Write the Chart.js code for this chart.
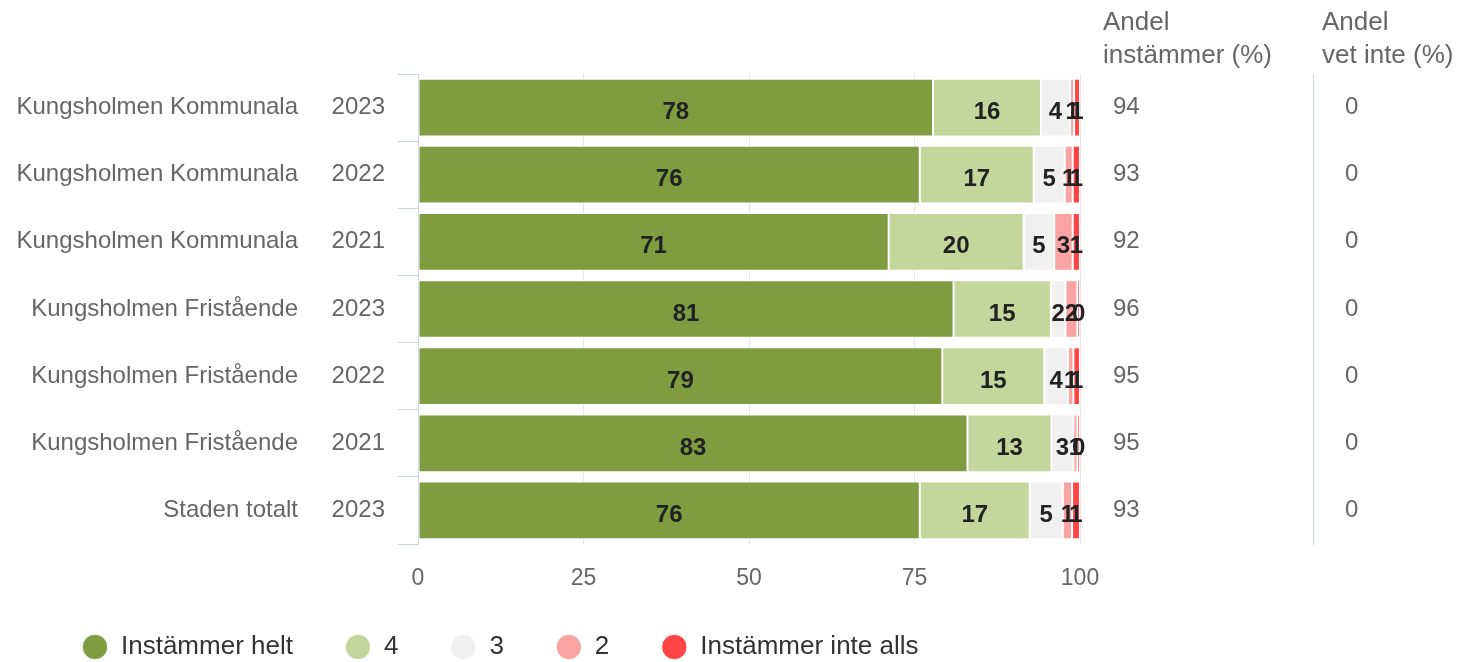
<!DOCTYPE html>
<html>
<head>
<meta charset="utf-8">
<script src="https://cdn.jsdelivr.net/npm/chart.js@4/dist/chart.umd.min.js"></script>
<style>
  html, body { margin: 0; padding: 0; background: #fff; }
  #wrap { width: 1477px; height: 662px; }
</style>
</head>
<body>
<div id="wrap"><canvas id="grafik" width="1477" height="662"></canvas></div>
<script>
// etiketter
const grupper = ['Kungsholmen Kommunala', 'Kungsholmen Kommunala', 'Kungsholmen Kommunala',
  'Kungsholmen Fristående', 'Kungsholmen Fristående', 'Kungsholmen Fristående', 'Staden totalt'];
const ar = ['2023', '2022', '2021', '2023', '2022', '2021', '2023'];

// serier (andel %)
const helt = [77.8, 75.8, 71.1, 80.9, 79.2, 83.0, 75.8];
const fyra = [16.3, 17.2, 20.4, 14.7, 15.4, 12.7, 16.6];
const tre = [4.4, 4.7, 4.6, 2.2, 3.6, 3.3, 5.0];
const tva = [0.6, 1.2, 2.8, 1.8, 0.8, 0.6, 1.4];
const inteAlls = [0.9, 1.1, 1.1, 0.4, 1.0, 0.4, 1.2];

const andelInstammer = [94, 93, 92, 96, 95, 95, 93];
const andelVetInte = [0, 0, 0, 0, 0, 0, 0];
const xTicks = [0, 25, 50, 75, 100];

const gra = '#666666';
const linje = '#ccd6eb';
const typsnitt = '"Liberation Sans", Arial, sans-serif';

// siffror mitt i staplarna
const stapelEtiketter = {
  id: 'stapelEtiketter',
  afterDatasetsDraw(chart) {
    const ctx = chart.ctx;
    ctx.save();
    ctx.font = 'bold 24px ' + typsnitt;
    ctx.fillStyle = '#222';
    ctx.textAlign = 'center';
    ctx.textBaseline = 'middle';
    chart.data.datasets.forEach((ds, i) => {
      chart.getDatasetMeta(i).data.forEach((bar, j) => {
        const x = (bar.x + bar.base) / 2;
        ctx.fillText(String(Math.round(ds.data[j])), x, bar.y + 5);
      });
    });
    ctx.restore();
  }
};

// rubriker över högerkolumnerna
const kolumnRubriker = {
  id: 'kolumnRubriker',
  afterDraw(chart) {
    const ctx = chart.ctx;
    ctx.save();
    ctx.font = '26px ' + typsnitt;
    ctx.fillStyle = gra;
    ctx.textAlign = 'left';
    ctx.textBaseline = 'middle';
    const a = chart.scales.yAndel.left + 23;
    const b = chart.scales.yVet.left + 9;
    ctx.fillText('Andel', a, 23);
    ctx.fillText('instämmer (%)', a, 56);
    ctx.fillText('Andel', b, 23);
    ctx.fillText('vet inte (%)', b, 56);
    ctx.restore();
  }
};

// flytta legenden lite (in från vänsterkanten, upp mot axeln)
const legendFlytt = {
  id: 'legendFlytt',
  afterLayout(chart) {
    const l = chart.legend;
    l.left += 30; l.right += 30;
    l.top -= 12;
  }
};

function serie(namn, data, farg) {
  return {
    label: namn,
    data: data,
    backgroundColor: farg,
    borderColor: '#ffffff',
    borderWidth: 1,
    borderSkipped: false,
    barPercentage: 0.86,
    categoryPercentage: 1
  };
}

new Chart(document.getElementById('grafik'), {
  type: 'bar',
  data: {
    labels: ar,
    datasets: [
      serie('Instämmer helt', helt, '#7f9c41'),
      serie('4', fyra, '#c4d69b'),
      serie('3', tre, '#f0f0f0'),
      serie('2', tva, '#faa3a3'),
      serie('Instämmer inte alls', inteAlls, '#ff4545')
    ]
  },
  options: {
    indexAxis: 'y',
    responsive: false,
    animation: false,
    layout: { padding: { top: 74, left: 0, right: 0, bottom: 0 } },
    scales: {
      x: {
        stacked: true,
        min: 0,
        max: 100,
        afterBuildTicks: s => { s.ticks = xTicks.map(v => ({ value: v })); },
        afterFit: s => { s.height = 50; },
        grid: { color: '#e6e6e6', drawTicks: false },
        border: { display: false },
        ticks: { color: gra, padding: 21, font: { size: 23, family: typsnitt } }
      },
      y: {
        stacked: true,
        weight: 0,
        afterFit: s => { s.width = 108; },
        grid: { display: true, drawOnChartArea: false, drawTicks: true, tickLength: 20, color: linje, offset: true },
        border: { display: true, color: linje },
        ticks: { color: gra, padding: 13, font: { size: 24, family: typsnitt } }
      },
      yName: {
        type: 'category',
        labels: grupper,
        position: 'left',
        offset: true,
        weight: 1,
        afterFit: s => { s.width = 310; },
        grid: { display: false, drawTicks: false },
        border: { display: false },
        ticks: { color: gra, padding: 12, font: { size: 24, family: typsnitt } }
      },
      yAndel: {
        type: 'category',
        labels: andelInstammer.map(String),
        position: 'right',
        offset: true,
        weight: 0,
        afterFit: s => { s.width = 233; },
        grid: { display: false, drawTicks: false },
        border: { display: false },
        ticks: { color: gra, padding: 33, font: { size: 24, family: typsnitt } }
      },
      yVet: {
        type: 'category',
        labels: andelVetInte.map(String),
        position: 'right',
        offset: true,
        weight: 1,
        afterFit: s => { s.width = 164; },
        grid: { display: false, drawTicks: false },
        border: { display: true, color: linje },
        ticks: { color: gra, padding: 32, font: { size: 24, family: typsnitt } }
      }
    },
    plugins: {
      legend: {
        position: 'bottom',
        align: 'start',
        maxHeight: 68,
        labels: {
          usePointStyle: true,
          pointStyle: 'circle',
          boxHeight: 18,
          boxWidth: 26,
          padding: 52,
          color: '#333',
          font: { size: 26, family: typsnitt }
        }
      },
      tooltip: { enabled: false }
    }
  },
  plugins: [stapelEtiketter, kolumnRubriker, legendFlytt]
});
</script>
</body>
</html>
